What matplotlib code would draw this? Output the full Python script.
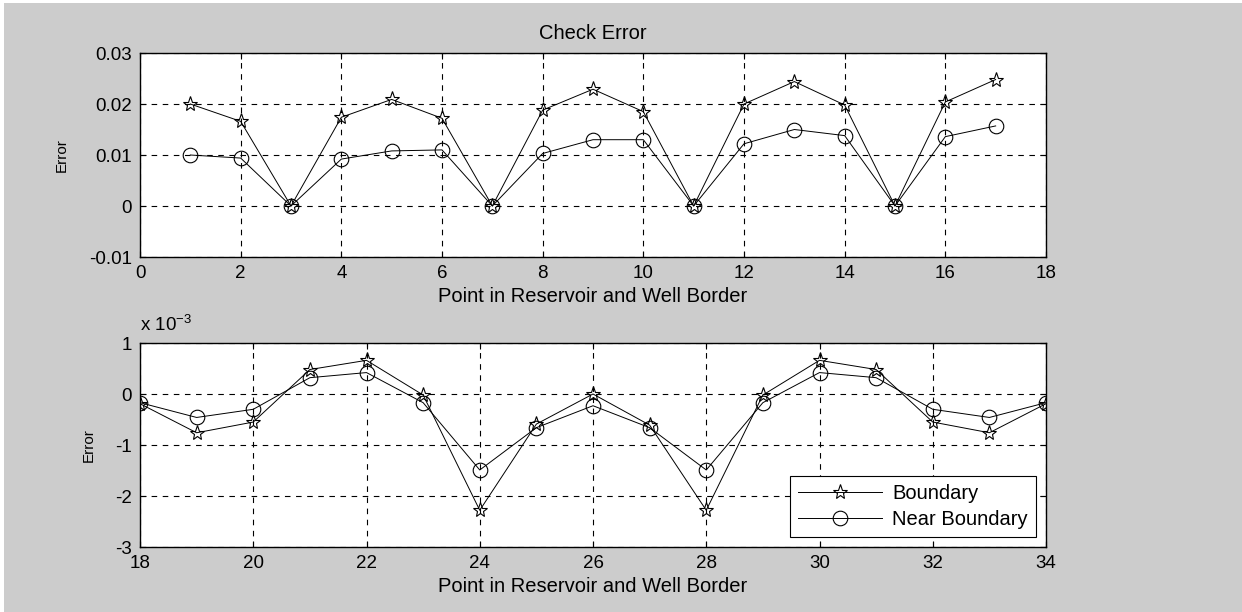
import numpy as np
import matplotlib.pyplot as plt
from matplotlib.patches import Rectangle
from matplotlib.ticker import FuncFormatter

plt.rcParams['font.family'] = ['Liberation Sans', 'DejaVu Sans']

# point numbers and errors, first half of the border
pts_top = list(range(1, 18))
boundary_top = [0.0200, 0.0166, 0.0, 0.0174, 0.0209, 0.0172, 0.0, 0.0188, 0.0229,
                0.0185, 0.0, 0.0200, 0.0244, 0.0198, 0.0, 0.0204, 0.0248]
near_top = [0.0100, 0.0094, 0.0, 0.0092, 0.0108, 0.0110, 0.0, 0.0103, 0.0130,
            0.0130, 0.0, 0.0122, 0.0150, 0.0138, 0.0, 0.0136, 0.0157]

# second half (values in units of 1e-3)
pts_bot = list(range(18, 35))
boundary_bot = [-0.19, -0.76, -0.55, 0.48, 0.66, -0.02, -2.28, -0.59, 0.0,
                -0.61, -2.28, -0.02, 0.66, 0.48, -0.55, -0.76, -0.19]
near_bot = [-0.17, -0.46, -0.30, 0.32, 0.42, -0.17, -1.49, -0.66, -0.23,
            -0.66, -1.49, -0.17, 0.42, 0.32, -0.30, -0.46, -0.17]

W, H = 1242, 612
fig = plt.figure(figsize=(W / 100, H / 100), dpi=100, facecolor='white')
fig.patches.append(Rectangle((4 / W, 0), 1, 1 - 3 / H, transform=fig.transFigure,
                             facecolor='#cccccc', edgecolor='none', zorder=-10))

left, width = 140 / W, 906 / W
ax1 = fig.add_axes([left, 1 - 257 / H, width, 204 / H])
ax2 = fig.add_axes([left, 1 - 547 / H, width, 204 / H])

TICK_FS = 13.5
LABEL_FS = 14.5


def style(ax):
    ax.set_facecolor('white')
    ax.grid(True, color='black', linestyle=(0, (5, 5)), linewidth=0.8)
    ax.tick_params(direction='in', length=4, width=0.8, top=True, right=True,
                   labelsize=TICK_FS, pad=6, colors='black')
    for s in ax.spines.values():
        s.set_linewidth(1.0)
    ax.set_xlabel('Point in Reservoir and Well Border', fontsize=LABEL_FS, labelpad=3)
    ax.set_ylabel('Error', fontsize=11, labelpad=14)


line_kw = dict(color='black', linewidth=0.7, markerfacecolor='none',
               markeredgecolor='black', markeredgewidth=0.8)

ax1.plot(pts_top, boundary_top, marker='*', markersize=11, label='Boundary', **line_kw)
ax1.plot(pts_top, near_top, marker='o', markersize=10.5, label='Near Boundary', **line_kw)
ax1.set_xlim(0, 18)
ax1.set_ylim(-0.01, 0.03)
ax1.set_xticks(np.arange(0, 19, 2))
ax1.set_yticks([-0.01, 0, 0.01, 0.02, 0.03])
ax1.yaxis.set_major_formatter(FuncFormatter(lambda v, p: '0' if abs(v) < 1e-12 else f'{v:g}'))
ax1.set_title('Check Error', fontsize=LABEL_FS, pad=10)
style(ax1)

scale = 1e-3
ax2.plot(pts_bot, np.array(boundary_bot) * scale, marker='*', markersize=11,
         label='Boundary', **line_kw)
ax2.plot(pts_bot, np.array(near_bot) * scale, marker='o', markersize=10.5,
         label='Near Boundary', **line_kw)
ax2.set_xlim(18, 34)
ax2.set_ylim(-3e-3, 1e-3)
ax2.set_xticks(np.arange(18, 35, 2))
ax2.set_yticks(np.arange(-3, 2) * scale)
ax2.yaxis.set_major_formatter(FuncFormatter(lambda v, p: f'{round(v / scale):d}'))
ax2.text(0.0, 1.04, r'x 10$^{\mathregular{-3}}$', transform=ax2.transAxes,
         fontsize=TICK_FS, ha='left', va='bottom')
style(ax2)

leg = ax2.legend(loc='lower right', fontsize=LABEL_FS, frameon=True, fancybox=False,
                 edgecolor='black', framealpha=1, borderpad=0.4, handlelength=4.2,
                 labelspacing=0.35, handletextpad=0.5, borderaxespad=0.5)
leg.get_frame().set_linewidth(0.8)

fig.savefig('out.png', dpi=100, facecolor=fig.get_facecolor())
